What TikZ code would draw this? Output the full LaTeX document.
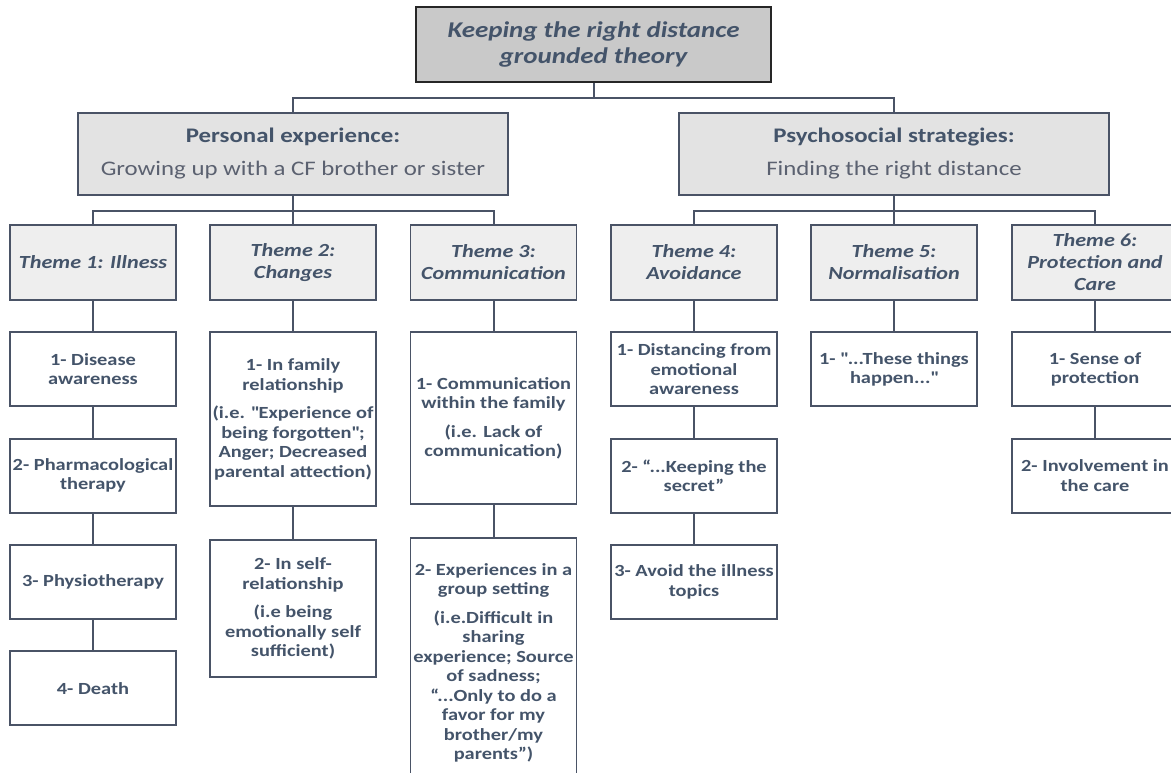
\documentclass[tikz,border=0pt]{standalone}
\usepackage{fontspec}
\setmainfont{Carlito}[FakeStretch=1.2]
\usepackage{tikz}
\usetikzlibrary{positioning}
\definecolor{txtblue}{HTML}{44546A}
\definecolor{linegray}{HTML}{4A5366}
\definecolor{subgray}{HTML}{5B6170}

\begin{document}
\begin{tikzpicture}[
    x=1pt, y=-1pt,
    every node/.style={text=txtblue},
    root/.style={draw=black!85, line width=2.6pt, rectangle, fill=gray!42, align=center, minimum width=355pt, minimum height=75pt, font=\fontsize{22.5}{26}\selectfont\bfseries\itshape},
    group/.style={draw=linegray, line width=1.8pt, rectangle, fill=gray!22, align=center, minimum width=430pt, minimum height=82pt, font=\fontsize{20.7}{33}\selectfont},
    theme/.style={draw=linegray, line width=1.8pt, rectangle, fill=gray!13, align=center, minimum width=166pt, minimum height=75pt, inner xsep=1pt, font=\fontsize{18.5}{22}\selectfont\bfseries\itshape},
    item/.style={draw=linegray, line width=1.8pt, rectangle, fill=white, align=center, minimum width=166pt, minimum height=74pt, inner xsep=1pt, font=\fontsize{17}{19.5}\selectfont\bfseries},
    link/.style={draw=linegray, line width=2pt}
]
\useasboundingbox (0,0) rectangle (1171,773);

\node[root] (root) at (593.5,44.5) {Keeping the right distance\\grounded theory};

\node[group] (personal) at (293,154) {{\bfseries Personal experience:}\\{\color{subgray}Growing up with a CF brother or sister}};
\node[group] (psycho) at (894,154) {{\bfseries Psychosocial strategies:}\\{\color{subgray}Finding the right distance}};

\node[theme] (illness) at (93,262.5) {Theme 1: Illness};
\node[theme] (changes) at (293,262.5) {Theme 2:\\Changes};
\node[theme] (communication) at (493.5,262.5) {Theme 3:\\Communication};
\node[theme] (avoidance) at (694,262.5) {Theme 4:\\Avoidance};
\node[theme] (normalisation) at (894,262.5) {Theme 5:\\Normalisation};
\node[theme] (protection) at (1095,262.5) {Theme 6:\\Protection and\\Care};

\node[item, below=30.5pt of illness] (illness1) {1- Disease\\awareness};
\node[item, below=30.5pt of illness1] (illness2) {2- Pharmacological\\therapy};
\node[item, below=30.5pt of illness2] (illness3) {3- Physiotherapy};
\node[item, below=30.5pt of illness3] (illness4) {4- Death};

\node[item, below=30.5pt of changes, minimum height=174pt] (changes1) {1- In family\\relationship\\[9pt](i.e. \textquotedbl Experience of\\being forgotten\textquotedbl;\\Anger; Decreased\\parental attection)};
\node[item, below=32pt of changes1, minimum height=137pt] (changes2) {2- In self-\\relationship\\[9pt](i.e being\\emotionally self\\sufficient)};

\node[item, below=30.5pt of communication, minimum height=172pt] (communication1) {1- Communication\\within the family\\[9pt](i.e. Lack of\\communication)};
\node[item, below=32pt of communication1, minimum height=250pt] (communication2) {2- Experiences in a\\group setting\\[9pt](i.e.Difficult in\\sharing\\experience; Source\\of sadness;\\“...Only to do a\\favor for my\\brother/my\\parents”)};

\node[item, below=30.5pt of avoidance] (avoidance1) {1- Distancing from\\emotional\\awareness};
\node[item, below=30.5pt of avoidance1] (avoidance2) {2- “...Keeping the\\secret”};
\node[item, below=30.5pt of avoidance2] (avoidance3) {3- Avoid the illness\\topics};

\node[item, below=30.5pt of normalisation] (normalisation1) {1- \textquotedbl...These things\\happen...\textquotedbl};

\node[item, below=30.5pt of protection] (protection1) {1- Sense of\\protection};
\node[item, below=30.5pt of protection1] (protection2) {2- Involvement in\\the care};

\draw[link] (root.south) -- ++(0,15) -| (personal.north);
\draw[link] (root.south) -- ++(0,15) -| (psycho.north);
\foreach \t in {illness, changes, communication}
    \draw[link] (personal.south) -- ++(0,15) -| (\t.north);
\foreach \t in {avoidance, normalisation, protection}
    \draw[link] (psycho.south) -- ++(0,15) -| (\t.north);

\draw[link] (illness) -- (illness1) -- (illness2) -- (illness3) -- (illness4);
\draw[link] (changes) -- (changes1) -- (changes2);
\draw[link] (communication) -- (communication1) -- (communication2);
\draw[link] (avoidance) -- (avoidance1) -- (avoidance2) -- (avoidance3);
\draw[link] (normalisation) -- (normalisation1);
\draw[link] (protection) -- (protection1) -- (protection2);

\end{tikzpicture}
\end{document}
